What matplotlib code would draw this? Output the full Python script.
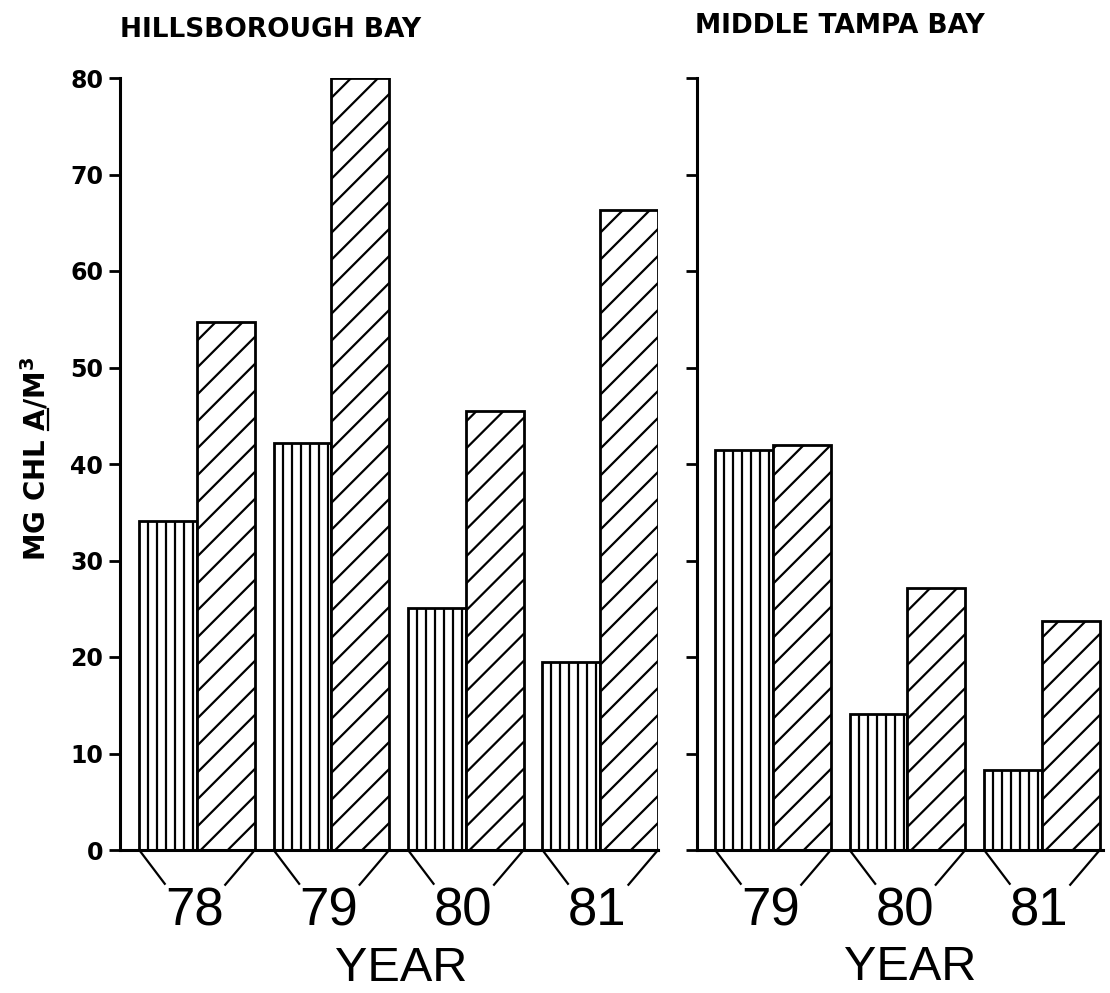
import matplotlib.pyplot as plt
import numpy as np

plt.rcParams['font.family'] = 'DejaVu Sans'
plt.rcParams['mathtext.fontset'] = 'dejavusans'

# chlorophyll a, mg/m3 -- two bars per year
hills_years = ['78', '79', '80', '81']
hills_vert = [34.1, 42.2, 25.1, 19.5]
hills_diag = [54.7, 80.0, 45.5, 66.3]

middle_years = ['79', '80', '81']
middle_vert = [41.4, 14.1, 8.3]
middle_diag = [42.0, 27.2, 23.7]

W, H = 1110, 993
fig = plt.figure(figsize=(W / 100, H / 100), dpi=100)


def px_box(x0, x1, y_top, y_bot):
    return [x0 / W, 1 - y_bot / H, (x1 - x0) / W, (y_bot - y_top) / H]


ax1 = fig.add_axes(px_box(120, 658, 78, 850))
ax2 = fig.add_axes(px_box(697, 1102.5, 78, 850))

bw = 0.43
lw = 2.0
hlw = 1.6


def draw_panel(ax, years, vert, diag, xlim):
    pos = np.arange(len(years))
    ax.set_xlim(*xlim)
    ax.set_ylim(0, 80)

    vbars = ax.bar(pos - bw, vert, bw, align='edge', facecolor='white',
                   edgecolor='black', lw=lw)
    dbars = ax.bar(pos, diag, bw, align='edge', facecolor='white',
                   edgecolor='black', lw=lw)

    # hatching drawn by hand so the spacing can be set in pixels
    box = ax.get_position()
    sx = box.width * W / (xlim[1] - xlim[0])
    sy = box.height * H / 80

    vstep = 9 / sx
    for rect in vbars:
        x0 = rect.get_x()
        h = rect.get_height()
        for xv in np.arange(x0 + vstep, x0 + bw, vstep):
            line, = ax.plot([xv, xv], [0, h], color='black', lw=hlw)
            line.set_clip_path(rect)

    k = sx / sy
    dstep = 27 / sy
    for rect in dbars:
        x0 = rect.get_x()
        h = rect.get_height()
        xs = np.array([x0, x0 + bw])
        for b in np.arange(-k * bw, h + dstep, dstep):
            line, = ax.plot(xs, b + k * (xs - x0), color='black', lw=hlw)
            line.set_clip_path(rect)

    # bracket under each pair and the year
    for p, yr in zip(pos, years):
        ax.plot([p - bw, p - bw + 0.19], [0, -3.5], color='black', lw=hlw,
                clip_on=False)
        ax.plot([p + bw, p + bw - 0.22], [0, -3.6], color='black', lw=hlw,
                clip_on=False)
        ax.text(p - 0.02, -7.8, yr, ha='center', va='baseline', fontsize=38,
                family='Liberation Sans')

    for s in ['top', 'right']:
        ax.spines[s].set_visible(False)
    for s in ['left', 'bottom']:
        ax.spines[s].set_linewidth(2.2)
    ax.set_xticks([])
    ax.set_yticks(range(0, 81, 10))
    ax.tick_params(axis='y', direction='out', length=8, width=2,
                   labelsize=17, pad=4)
    for t in ax.get_yticklabels():
        t.set_fontweight('bold')


draw_panel(ax1, hills_years, hills_vert, hills_diag, (-0.573, 3.43))
draw_panel(ax2, middle_years, middle_vert, middle_diag, (-0.565, 2.45))
ax2.tick_params(labelleft=False)

fig.text(120 / W, 1 - 37 / H, 'HILLSBOROUGH BAY', ha='left', va='baseline',
         fontsize=19, fontweight='bold')
fig.text(695 / W, 1 - 33 / H, 'MIDDLE TAMPA BAY', ha='left', va='baseline',
         fontsize=19, fontweight='bold')

fig.text(401 / W, 1 - 981 / H, 'YEAR', ha='center', va='baseline',
         fontsize=35, family='Liberation Sans')
fig.text(910 / W, 1 - 980 / H, 'YEAR', ha='center', va='baseline',
         fontsize=35, family='Liberation Sans')

# y label, rotated; the A is underlined by hand
ylab = r'MG CHL A/M$^{\mathbf{3}}$'
lab_kw = dict(fontsize=20, fontweight='bold')
renderer = fig.canvas.get_renderer()


def text_width(s):
    t = fig.text(0, 0, s, **lab_kw)
    w = t.get_window_extent(renderer).width
    t.remove()
    return w


total = text_width(ylab)
a_end = text_width('MG CHL A')
a_start = a_end - text_width('A')
x_base = 45
y_start = 459 + total / 2  # pixels from top
fig.text(x_base / W, 1 - y_start / H, ylab, rotation=90,
         rotation_mode='anchor', ha='left', va='baseline', **lab_kw)
fig.add_artist(plt.Line2D([(x_base + 3) / W] * 2,
                          [1 - (y_start - a_start) / H, 1 - (y_start - a_end) / H],
                          color='black', lw=1.6))

fig.savefig('out.png', dpi=100)
